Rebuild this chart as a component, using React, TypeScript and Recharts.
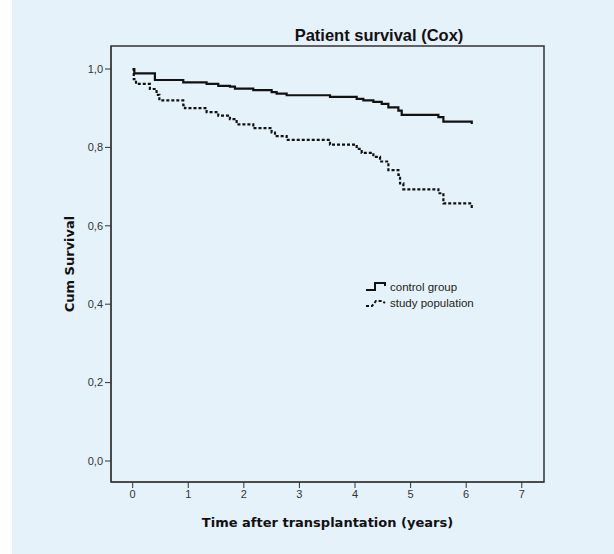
import React from 'react';
import { LineChart, Line, XAxis, YAxis, ReferenceArea } from 'recharts';

// Kaplan-Meier style step curves
const controlTime = [0, 0.03, 0.4, 0.91, 1.33, 1.54, 1.75, 1.84, 2.17, 2.5, 2.59, 2.77, 3.55, 4.03, 4.15, 4.33, 4.48, 4.6, 4.78, 4.84, 5.5, 5.59, 6.1, 6.1];
const controlSurv = [1.0, 0.989, 0.972, 0.966, 0.962, 0.957, 0.955, 0.95, 0.946, 0.941, 0.937, 0.933, 0.929, 0.924, 0.92, 0.916, 0.911, 0.902, 0.894, 0.883, 0.877, 0.866, 0.866, 0.86];

const studyTime = [0, 0.02, 0.06, 0.31, 0.43, 0.48, 0.91, 0.94, 1.33, 1.54, 1.75, 1.87, 2.17, 2.5, 2.56, 2.77, 3.55, 4.03, 4.12, 4.33, 4.45, 4.6, 4.78, 4.81, 4.87, 5.5, 5.59, 6.1, 6.1];
const studySurv = [1.0, 0.974, 0.962, 0.949, 0.934, 0.92, 0.908, 0.9, 0.89, 0.881, 0.872, 0.859, 0.849, 0.838, 0.829, 0.819, 0.807, 0.796, 0.786, 0.776, 0.764, 0.742, 0.73, 0.708, 0.693, 0.683, 0.657, 0.657, 0.642];

const xTicks = [0, 1, 2, 3, 4, 5, 6, 7];
const yTicks = [0, 0.2, 0.4, 0.6, 0.8, 1.0];

const xDomain: [number, number] = [-0.39, 7.4];
const yDomain: [number, number] = [-0.0536, 1.0587];

const controlData = controlTime.map((t, i) => ({ t, s: controlSurv[i] }));
const studyData = studyTime.map((t, i) => ({ t, s: studySurv[i] }));

const ink = '#111';
const axisColor = '#333';
const bg = '#e6f2f9';

const LegendBox = () => (
  <div
    style={{
      position: 'absolute',
      left: 353,
      top: 279,
      fontFamily: 'Liberation Sans, Arial, sans-serif',
      fontSize: 11.5,
      color: '#222',
      lineHeight: '16px',
    }}
  >
    <div style={{ display: 'flex', alignItems: 'center' }}>
      <svg width={25} height={12}>
        <path d="M1 9 H10 V2 H20 V5" fill="none" stroke={ink} strokeWidth={2} />
      </svg>
      <span>control group</span>
    </div>
    <div style={{ display: 'flex', alignItems: 'center' }}>
      <svg width={25} height={12}>
        <path d="M1 9 H7 L11 4 H17 L20 6" fill="none" stroke={ink} strokeWidth={2} strokeDasharray="3 2" />
      </svg>
      <span>study population</span>
    </div>
  </div>
);

const App: React.FC = () => {
  return (
    <div style={{ position: 'absolute', left: 12, top: 0, width: 602, height: 554, background: bg }}>
      <div
        style={{
          position: 'absolute',
          left: 0,
          width: 602,
          top: 26,
          textAlign: 'center',
          paddingLeft: 132,
          boxSizing: 'border-box',
          fontFamily: 'Liberation Sans, Arial, sans-serif',
          fontWeight: 'bold',
          fontSize: 16.5,
          color: '#111',
        }}
      >
        Patient survival (Cox)
      </div>
      <LineChart width={602} height={554} data={controlData} margin={{ top: 46, right: 70, bottom: 22, left: 54 }}>
        <XAxis
          type="number"
          dataKey="t"
          domain={xDomain}
          ticks={xTicks}
          allowDataOverflow
          height={50}
          tickSize={6}
          stroke={axisColor}
          tick={{ fill: '#333', fontSize: 11, fontFamily: 'Liberation Sans, Arial, sans-serif' }}
          label={{
            value: 'Time after transplantation (years)',
            position: 'insideBottom',
            offset: 5,
            style: { fontFamily: 'DejaVu Sans', fontWeight: 'bold', fontSize: 13, fill: '#111' },
          }}
        />
        <YAxis
          type="number"
          domain={yDomain}
          ticks={yTicks}
          allowDataOverflow
          width={45}
          tickSize={6}
          stroke={axisColor}
          tickFormatter={(v: number) => v.toFixed(1).replace('.', ',')}
          tick={{ fill: '#333', fontSize: 11, fontFamily: 'Liberation Sans, Arial, sans-serif' }}
          label={{
            value: 'Cum Survival',
            angle: -90,
            position: 'insideLeft',
            offset: 3,
            style: { textAnchor: 'middle', fontFamily: 'DejaVu Sans', fontWeight: 'bold', fontSize: 13, fill: '#111' },
          }}
        />
        <ReferenceArea x1={xDomain[0]} x2={xDomain[1]} y1={yDomain[0]} y2={yDomain[1]} fill="none" stroke={axisColor} strokeWidth={1.5} />
        <Line
          data={controlData}
          type="stepAfter"
          dataKey="s"
          stroke={ink}
          strokeWidth={2.2}
          dot={false}
          isAnimationActive={false}
        />
        <Line
          data={studyData}
          type="stepAfter"
          dataKey="s"
          stroke={ink}
          strokeWidth={2.2}
          strokeDasharray="3 2"
          dot={false}
          isAnimationActive={false}
        />
      </LineChart>
      <LegendBox />
    </div>
  );
};

export default App;
